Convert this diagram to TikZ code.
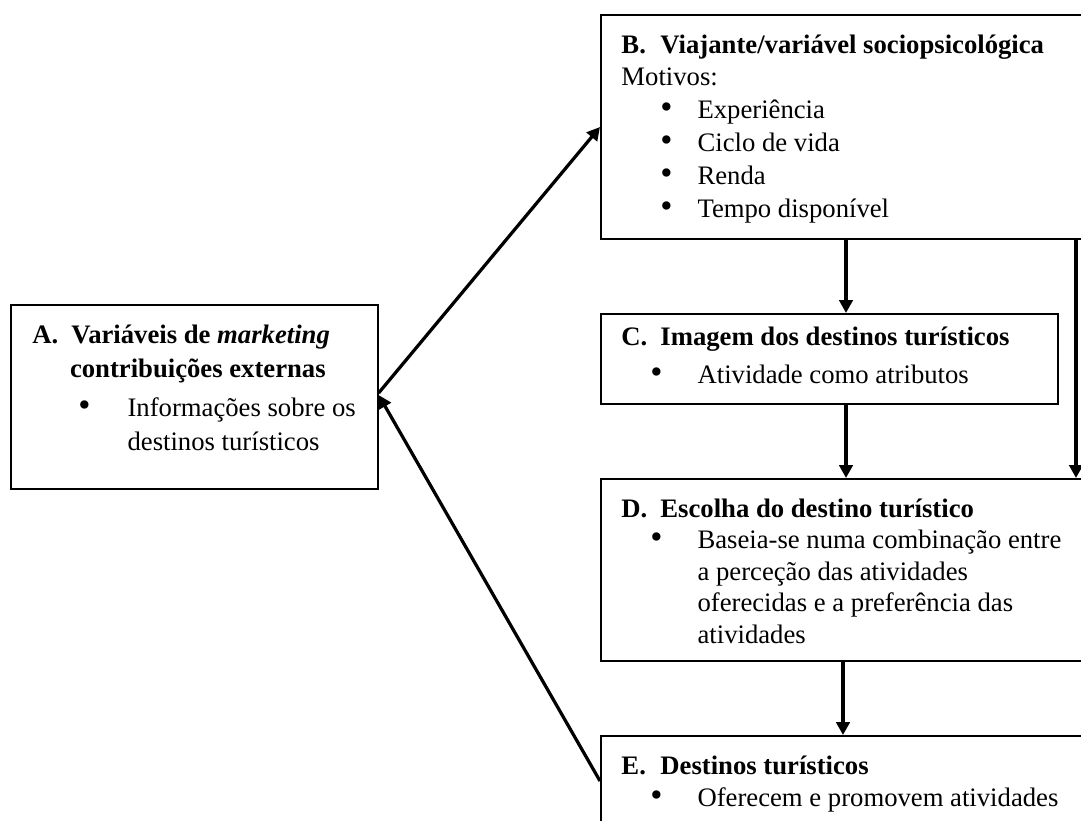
\documentclass[tikz,border=0pt]{standalone}
\usepackage{fontspec}
\setmainfont{Liberation Serif}
\usetikzlibrary{arrows.meta,positioning,calc}
\tikzset{
  box/.style={draw, line width=0.7pt, rectangle, inner sep=0pt, anchor=north west},
  txt/.style={anchor=base west, inner sep=0pt},
  arr/.style={line width=1.4pt, -{Triangle[length=5.6pt,width=5.8pt]}}
}
\newcommand{\lin}[1]{\hbox{#1}}
\newcommand{\dotb}{{\fontsize{15}{15}\selectfont\textbullet}}
\newcommand{\hd}[2]{\makebox[16.8pt][l]{\textbf{#1}}\textbf{#2}}
\newcommand{\bul}[2][12.5pt]{\makebox[32.8pt][l]{\hspace*{#1}\dotb}#2}
\newcommand{\cont}[1]{\hspace*{32.8pt}#1}

\begin{document}
\begin{tikzpicture}[x=0.431pt, y=-0.431pt]
\useasboundingbox (0,0) rectangle (1081,820);
\clip (0,0) rectangle (1081,820);
% boxes
\node[box, minimum width=367*0.431pt, minimum height=184*0.431pt] (A) at (10,304) {};
\node[box, minimum width=510*0.431pt, minimum height=224*0.431pt] (B) at (600,14) {};
\node[box, minimum width=457*0.431pt, minimum height=90*0.431pt] (C) at (600,313) {};
\node[box, minimum width=510*0.431pt, minimum height=182*0.431pt] (D) at (600,478) {};
\node[box, minimum width=510*0.431pt, minimum height=120*0.431pt] (E) at (600,735) {};
% texts
\node[txt, font=\fontsize{11.5}{14.7}\selectfont] (Atxt) at ($(A.north west)+(22,39)$)
  {\vtop{\lin{\hd{A.}{Variáveis de \textit{marketing}}}
   \lin{\hspace*{16.2pt}\textbf{contribuições externas}}\vskip2.2pt
   \lin{\makebox[41pt][l]{\hspace*{19.8pt}\dotb}Informações sobre os}
   \lin{\hspace*{41pt}destinos turísticos}}};
\node[txt, font=\fontsize{11.5}{14.2}\selectfont] (Btxt) at ($(B.north west)+(21,39)$)
  {\vtop{\lin{\hd{B.}{Viajante/variável sociopsicológica}}
   \lin{Motivos:}
   \lin{\bul[16.8pt]{Experiência}}
   \lin{\bul[16.8pt]{Ciclo de vida}}
   \lin{\bul[16.8pt]{Renda}}
   \lin{\bul[16.8pt]{Tempo disponível}}}};
\node[txt, font=\fontsize{11.5}{16.8}\selectfont] (Ctxt) at ($(C.north west)+(21,32)$)
  {\vtop{\lin{\hd{C.}{Imagem dos destinos turísticos}}
   \lin{\bul{Atividade como atributos}}}};
\node[txt, font=\fontsize{11.5}{13.6}\selectfont] (Dtxt) at ($(D.north west)+(21,39)$)
  {\vtop{\lin{\hd{D.}{Escolha do destino turístico}}
   \lin{\bul{Baseia-se numa combinação entre}}
   \lin{\cont{a perceção das atividades}}
   \lin{\cont{oferecidas e a preferência das}}
   \lin{\cont{atividades}}}};
\node[txt, font=\fontsize{11.5}{14.2}\selectfont] (Etxt) at ($(E.north west)+(21,39)$)
  {\vtop{\lin{\hd{E.}{Destinos turísticos}}
   \lin{\bul{Oferecem e promovem atividades}}}};
% connectors
\draw[arr] ($(A.north east)+(0,89)$) -- ($(B.north west)+(0,113)$);
\draw[arr] ($(E.north west)+(0,46)$) -- ($(A.north east)+(0,91)$);
\draw[arr] ($(B.south west)+(246,0)$) -- ($(C.north west)+(246,0)$);
\draw[arr] ($(C.south west)+(246,0)$) -- ($(D.north west)+(246,0)$);
\draw[arr] ($(D.south west)+(243,0)$) -- ($(E.north west)+(243,0)$);
\draw[arr] ($(B.south west)+(476,0)$) -- ($(D.north west)+(476,0)$);
\end{tikzpicture}
\end{document}
